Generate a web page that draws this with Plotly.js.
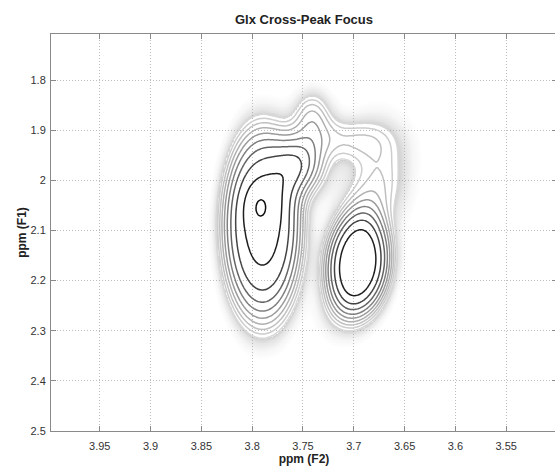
<!DOCTYPE html>
<html>
<head>
<meta charset="utf-8">
<script src="https://cdn.plot.ly/plotly-3.0.1.min.js"></script>
<style>
html,body{margin:0;padding:0;background:#fff;overflow:hidden;}
#chart{width:562px;height:466px;}
</style>
</head>
<body>
<div id="chart"></div>
<script>
// ---- chart text ----
const chartTitle = 'Glx Cross-Peak Focus';
const xTitle = 'ppm (F2)';
const yTitle = 'ppm (F1)';
const xTickVals = [3.95, 3.9, 3.85, 3.8, 3.75, 3.7, 3.65, 3.6, 3.55];
const xTickText = ['3.95', '3.9', '3.85', '3.8', '3.75', '3.7', '3.65', '3.6', '3.55'];
const yTickVals = [1.8, 1.9, 2.0, 2.1, 2.2, 2.3, 2.4, 2.5];
const yTickText = ['1.8', '1.9', '2', '2.1', '2.2', '2.3', '2.4', '2.5'];

// ---- peak components (ppm, relative intensity) ----
// 0 main Glx body, 1 upper core, 2 apex, 3 upper-right shoulder, 4 top dome,
// 5 ridge saddle, 6 right lobe, 7 second peak, 8 its upper tail, 9 its lower tail
const peakF2      = [3.790, 3.791, 3.792, 3.752, 3.741, 3.712, 3.674, 3.696, 3.688, 3.710];
const peakF1      = [2.092, 2.045, 2.058, 1.968, 1.872, 1.918, 1.975, 2.165, 2.050, 2.255];
const peakWidthF2 = [0.0306, 0.014, 0.006, 0.016, 0.013, 0.030, 0.021, 0.0238, 0.018, 0.018];
const peakWidthF1 = [0.150, 0.035, 0.022, 0.040, 0.036, 0.030, 0.070, 0.078, 0.045, 0.045];
const peakHeight  = [0.80, 0.10, 0.095, 0.47, 0.22, 0.16, 0.15, 0.916, 0.12, 0.10];
const peakShape   = [1.68, 1, 1, 1, 1, 1, 1, 1.5, 1, 1];
const peakShear   = [0, 0, 0, 0, 0, 0, 0, 0.03, 0.07, 0.05];

// contour levels (log10 of intensity) and their greys
const levelStart = -0.92, levelEnd = -0.02, levelStep = 0.1;
const levelGreys = ['#d8d8d8', '#cdcdcd', '#c0c0c0', '#b0b0b0', '#9a9a9a', '#808080', '#646464', '#444444', '#1e1e1e', '#0e0e0e'];

// ---- spectrum grid ----
const f2Min = 3.48, f2Max = 4.02, f2N = 271;
const f1Min = 1.68, f1Max = 2.52, f1N = 281;
const f2 = [], f1 = [];
for (let i = 0; i < f2N; i++) f2.push(f2Min + (f2Max - f2Min) * i / (f2N - 1));
for (let j = 0; j < f1N; j++) f1.push(f1Min + (f1Max - f1Min) * j / (f1N - 1));

const z = f1.map(y => f2.map(x => {
  let s = 0;
  for (let k = 0; k < peakF2.length; k++) {
    const dy = y - peakF1[k];
    const ux = (x - peakF2[k] - peakShear[k] * dy) / peakWidthF2[k];
    const uy = dy / peakWidthF1[k];
    const q = ux * ux + uy * uy;
    s += peakHeight[k] * Math.exp(-0.5 * Math.pow(q, peakShape[k]));
  }
  return Math.log10(Math.max(s, 1e-6));
}));

// soft grey glow just outside the outermost contour
const haloMin = -1.6, haloMax = -0.90;
const haloZ = z.map(row => row.map(v => (v < levelStart ? v : haloMax)));

const fr = (v) => (v - haloMin) / (haloMax - haloMin);
const halo = {
  type: 'heatmap', x: f2, y: f1, z: haloZ, zsmooth: 'best',
  zmin: haloMin, zmax: haloMax, showscale: false, hoverinfo: 'skip',
  colorscale: [
    [0, 'rgba(170,170,170,0)'],
    [0.45, 'rgba(170,170,170,0.10)'],
    [0.8, 'rgba(160,160,160,0.28)'],
    [fr(levelStart) - 0.004, 'rgba(150,150,150,0.45)'],
    [fr(levelStart) + 0.004, 'rgba(255,255,255,0)'],
    [1, 'rgba(255,255,255,0)']
  ]
};

const nLev = levelGreys.length;
const trace = {
  type: 'contour',
  x: f2, y: f1, z: z,
  autocontour: false,
  contours: {start: levelStart, end: levelEnd, size: levelStep, coloring: 'lines'},
  zmin: levelStart, zmax: levelEnd,
  colorscale: levelGreys.map((c, i) => [i / (nLev - 1), c]),
  line: {width: 1.5, smoothing: 1},
  showscale: false,
  hoverinfo: 'skip'
};

const fontFam = 'Liberation Sans, Arial, sans-serif';
const axisCommon = {
  showline: true, linecolor: '#8a8a8a', linewidth: 1, mirror: 'ticks',
  ticks: 'inside', ticklen: 5, tickcolor: '#8a8a8a', tickwidth: 1,
  showgrid: true, gridcolor: '#bdbdbd', gridwidth: 1, griddash: '1px,2px',
  zeroline: false,
  tickfont: {family: fontFam, size: 11, color: '#333'}
};

const layout = {
  width: 562, height: 466,
  margin: {l: 51, r: 5, t: 34, b: 35},
  paper_bgcolor: '#fff', plot_bgcolor: '#fff',
  title: {text: chartTitle, x: 0.5, xref: 'paper', y: 1 - 19 / 466, yref: 'container', yanchor: 'middle',
          font: {family: fontFam, size: 13, color: '#222', weight: 'bold'}},
  xaxis: Object.assign({}, axisCommon, {
    range: [3.998, 3.5], autorange: false,
    tickmode: 'array', tickvals: xTickVals, ticktext: xTickText,
    ticklabelstandoff: 5,
    title: {text: xTitle, standoff: 5, font: {family: fontFam, size: 12, color: '#222', weight: 'bold'}}
  }),
  yaxis: Object.assign({}, axisCommon, {
    range: [2.5, 1.708], autorange: false,
    tickmode: 'array', tickvals: yTickVals, ticktext: yTickText,
    ticklabelstandoff: 2,
    title: {text: yTitle, standoff: 1, font: {family: fontFam, size: 12, color: '#222', weight: 'bold'}}
  }),
  showlegend: false
};

Plotly.newPlot('chart', [halo, trace], layout, {displayModeBar: false, staticPlot: true});
</script>
</body>
</html>
